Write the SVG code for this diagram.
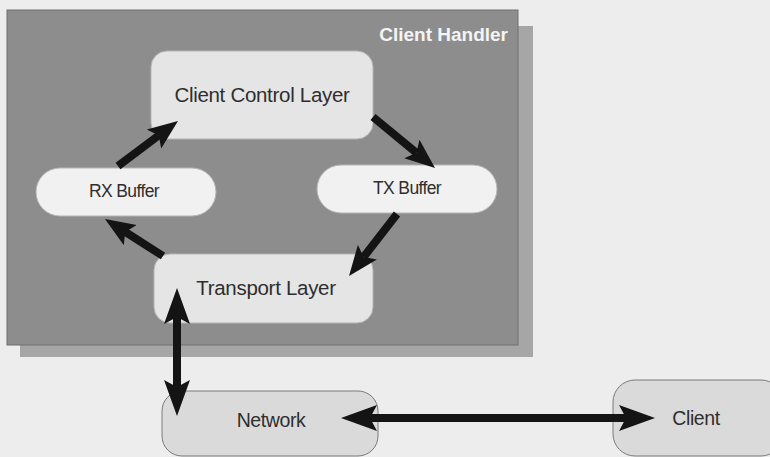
<svg xmlns="http://www.w3.org/2000/svg" width="770" height="457" viewBox="0 0 770 457">
  <defs>
    <style>
      .label { font-family: "Liberation Sans", Arial, sans-serif; fill: #2e2e2e; text-anchor: middle; dominant-baseline: central; }
      .big { font-size: 20.5px; letter-spacing: -0.3px; }
      .small { font-size: 17.5px; letter-spacing: -0.6px; }
      .mid { font-size: 19.5px; letter-spacing: -0.4px; }
      .inner { fill: #e5e5e5; stroke: #b5b5b5; stroke-width: 1; }
      .buffer { fill: #f1f1f1; stroke: #b5b5b5; stroke-width: 1; }
      .outer { fill: #dadada; stroke: #7a7a7a; stroke-width: 1; }
      .conn { stroke: #141414; stroke-width: 8; fill: none; marker-end: url(#head); }
      .wide { stroke-width: 8; marker-end: url(#bighead); marker-start: url(#bighead); }
    </style>
    <marker id="head" markerUnits="userSpaceOnUse" markerWidth="30" markerHeight="26" refX="6" refY="13" orient="auto-start-reverse">
      <path d="M0,1 L30,13 L0,25 L6,13 z" fill="#141414"/>
    </marker>
    <marker id="bighead" markerUnits="userSpaceOnUse" markerWidth="36" markerHeight="28" refX="7" refY="14" orient="auto-start-reverse">
      <path d="M0,1 L36,14 L0,27 L7,14 z" fill="#141414"/>
    </marker>
  </defs>

  <!-- page background -->
  <rect x="0" y="0" width="770" height="457" fill="#ededed"/>

  <!-- client handler container with its drop shadow -->
  <g id="client-handler">
    <rect x="20" y="26" width="513" height="331" fill="#a6a6a6"/>
    <rect x="7" y="10" width="511" height="335" fill="#8d8d8d" stroke="#6f6f6f" stroke-width="1"/>
    <text x="508" y="41" font-family="'Liberation Sans', Arial, sans-serif" font-size="19" font-weight="bold" fill="#f4f4f4" text-anchor="end">Client Handler</text>
  </g>

  <g id="client-control-layer">
    <rect class="inner" x="151" y="51" width="222" height="88" rx="16"/>
    <text class="label big" x="262" y="94">Client Control Layer</text>
  </g>

  <g id="rx-buffer">
    <rect class="buffer" x="36" y="168" width="180" height="48" rx="24"/>
    <text class="label small" x="124" y="191">RX Buffer</text>
  </g>

  <g id="tx-buffer">
    <rect class="buffer" x="317" y="165" width="180" height="48" rx="24"/>
    <text class="label small" x="407" y="188">TX Buffer</text>
  </g>

  <g id="transport-layer">
    <rect class="inner" x="154" y="254" width="219" height="69" rx="16"/>
    <text class="label big" x="266" y="287">Transport Layer</text>
  </g>

  <g id="network">
    <rect class="outer" x="162" y="391" width="216" height="65" rx="20"/>
    <text class="label mid" x="271" y="420">Network</text>
  </g>

  <g id="client">
    <rect class="outer" x="613" y="380" width="170" height="76" rx="22"/>
    <text class="label mid" x="696" y="418">Client</text>
  </g>

  <g id="connectors">
    <line class="conn" x1="118" y1="166" x2="158.8" y2="135.4"/>
    <line class="conn" x1="373" y1="117" x2="416.5" y2="152.8"/>
    <line class="conn" x1="397" y1="214" x2="363.7" y2="257"/>
    <line class="conn" x1="163" y1="256" x2="125.2" y2="231.9"/>
    <line class="conn wide" x1="177" y1="317" x2="177" y2="387"/>
    <line class="conn wide" x1="370" y1="418" x2="626" y2="418"/>
  </g>
</svg>
